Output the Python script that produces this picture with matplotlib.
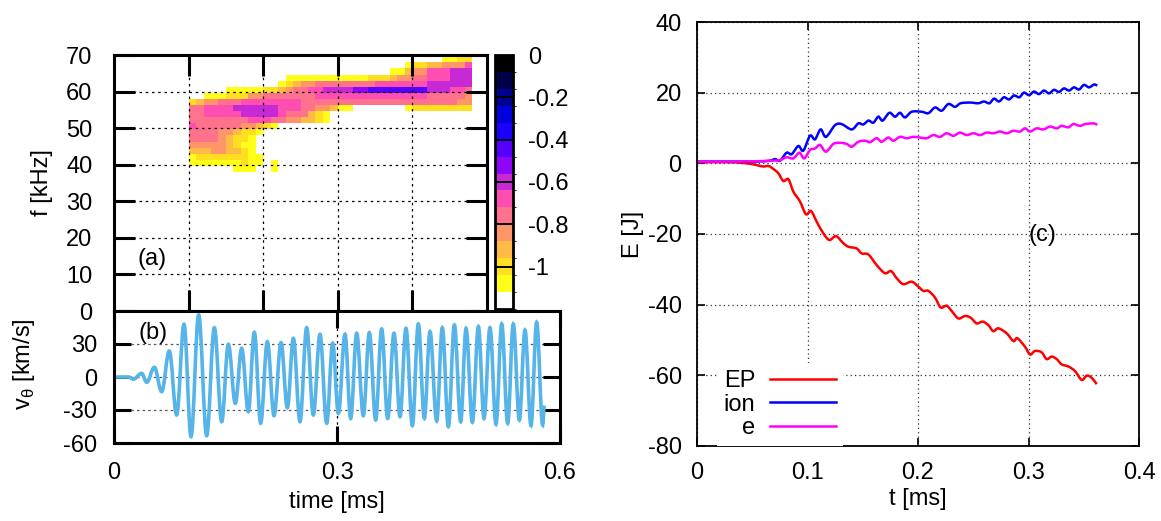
import matplotlib
matplotlib.use('Agg')
import matplotlib.pyplot as plt
import numpy as np
from matplotlib.colors import ListedColormap, BoundaryNorm
from matplotlib.ticker import FormatStrFormatter
from matplotlib.path import Path
from matplotlib.patches import PathPatch
from matplotlib.lines import Line2D

plt.rcParams['font.family'] = ['Liberation Sans', 'DejaVu Sans']
plt.rcParams['axes.unicode_minus'] = False
plt.rcParams['mathtext.fontset'] = 'custom'
plt.rcParams['mathtext.rm'] = 'Liberation Sans'
FS = 17

# (a) spectrogram: level runs per frequency row, top row first (0 = empty)
spec_t_edges = np.linspace(0.10, 0.48, 39)
spec_f_edges = np.linspace(38.0, 38.0 + 19 * 5 / 3, 20)
spec_runs = [
    [(0, 34), (1, 2), (2, 2)],
    [(0, 29), (1, 1), (2, 2), (3, 2), (4, 3), (6, 1)],
    [(0, 27), (1, 2), (3, 1), (4, 2), (6, 3), (7, 3)],
    [(0, 13), (1, 11), (2, 3), (3, 1), (4, 2), (5, 2), (6, 3), (7, 3)],
    [(0, 12), (1, 1), (2, 1), (3, 1), (4, 2), (5, 8), (6, 7), (7, 6)],
    [(0, 5), (1, 5), (2, 2), (3, 1), (4, 1), (5, 2), (6, 2), (7, 4), (8, 2), (9, 8), (7, 3), (6, 2), (5, 1)],
    [(0, 2), (1, 3), (2, 3), (4, 2), (5, 7), (6, 15), (5, 5), (4, 1)],
    [(2, 1), (3, 1), (4, 2), (5, 3), (6, 8), (5, 21), (4, 2)],
    [(5, 2), (6, 4), (7, 6), (6, 3), (5, 2), (4, 2), (3, 1), (1, 2), (0, 7), (1, 1), (2, 8)],
    [(5, 2), (6, 5), (7, 5), (6, 1), (5, 3), (3, 1), (2, 1), (1, 1)],
    [(5, 8), (6, 3), (5, 2), (4, 2), (3, 2), (2, 1), (1, 1)],
    [(6, 1), (5, 6), (4, 2), (3, 1), (2, 1), (1, 1)],
    [(5, 4), (4, 2), (3, 1), (2, 2), (1, 1)],
    [(5, 4), (4, 1), (3, 1), (2, 2), (1, 1)],
    [(4, 5), (3, 1), (2, 1), (1, 2)],
    [(3, 3), (4, 2), (3, 2), (2, 1), (1, 1)],
    [(1, 1), (2, 7), (1, 2)],
    [(1, 7), (2, 1), (1, 2), (0, 1), (1, 1)],
    [(0, 6), (1, 3), (0, 2), (1, 1)],
]
cb_colors = ['#ffffff', '#ffff1a', '#ffdf20', '#ffbb44', '#ff9669', '#ff728d',
             '#ff4db1', '#c729d6', '#8e05fa', '#5500ff', '#1c00ff', '#0000da',
             '#000092', '#000049', '#000000']
cb_ticks = [-1.0, -0.8, -0.6, -0.4, -0.2, 0.0]

# (b) v_theta turning points
vth_t = [0.0, 0.0013, 0.0193, 0.0260, 0.0372, 0.0440, 0.0543, 0.0641, 0.0744,
         0.0843, 0.0942, 0.1036, 0.1139, 0.1247, 0.1350, 0.1449, 0.1538, 0.1632,
         0.1718, 0.1807, 0.1888, 0.1973, 0.2063, 0.2153, 0.2247, 0.2332, 0.2413,
         0.2502, 0.2592, 0.2682, 0.2771, 0.2861, 0.2942, 0.3018, 0.3108, 0.3184,
         0.3265, 0.3354, 0.3435, 0.3520, 0.3601, 0.3682, 0.3767, 0.3848, 0.3928,
         0.4014, 0.4094, 0.4175, 0.4251, 0.4341, 0.4417, 0.4498, 0.4579, 0.4664,
         0.4736, 0.4821, 0.4902, 0.4978, 0.5058, 0.5139, 0.5216, 0.5296, 0.5372,
         0.5453, 0.5529, 0.5610, 0.5686, 0.5767, 0.5789]
vth_v = [0.0, 0.0, 0.0, -2.0, 3.3, -4.8, 8.8, -13.3, 23.6,
         -34.5, 47.9, -54.2, 56.4, -53.3, 44.8, -40.6, 29.7, -23.9,
         26.0, -31.5, 40.6, -42.0, 32.1, -35.1, 31.2, -27.9, 35.1,
         -40.6, 44.8, -34.5, 38.8, -42.0, 30.6, -33.0, 38.8, -37.6,
         39.7, -35.1, 40.3, -39.1, 43.6, -37.6, 39.7, -36.0, 44.2,
         -44.2, 48.2, -37.6, 41.2, -40.0, 44.8, -45.1, 47.3, -40.6,
         44.2, -41.2, 45.8, -37.6, 44.8, -43.0, 48.2, -42.1, 48.2,
         -39.1, 42.7, -44.2, 49.7, -43.6, -26.0]

# (c) energies
ep_t = [0.0, 0.0299, 0.045, 0.054, 0.060, 0.0646, 0.0691, 0.0736, 0.0781, 0.0827,
        0.0872, 0.0932, 0.0986, 0.1032, 0.1083, 0.1143, 0.1198, 0.1258, 0.1324,
        0.1370, 0.1445, 0.1490, 0.1551, 0.1626, 0.1701, 0.1756, 0.1807, 0.1867,
        0.1943, 0.2003, 0.2048, 0.2094, 0.2154, 0.2205, 0.2259, 0.2305, 0.2365,
        0.2425, 0.2477, 0.2531, 0.2585, 0.2637, 0.2681, 0.2727, 0.2802, 0.2863,
        0.2899, 0.2968, 0.3014, 0.3059, 0.3119, 0.3164, 0.3210, 0.3255, 0.3300,
        0.3361, 0.3421, 0.3481, 0.3527, 0.3572, 0.3617]
ep_v = [0.3, 0.3, 0.0, -0.5, -0.9, -0.75, -1.6, -2.8, -5.0, -4.5,
        -8.0, -10.8, -14.4, -13.5, -16.5, -19.8, -21.7, -20.6, -22.6,
        -23.6, -24.1, -25.5, -25.8, -28.8, -31.1, -30.5, -32.5, -34.2,
        -33.5, -34.9, -36.1, -36.1, -38.0, -40.8, -40.3, -41.8, -43.9,
        -43.2, -43.7, -45.3, -44.8, -45.8, -47.5, -46.7, -48.1, -50.3,
        -49.5, -51.9, -54.1, -53.1, -53.5, -55.4, -54.7, -55.4, -56.9,
        -57.5, -58.8, -61.3, -60.1, -60.7, -62.5]
ion_t = [0.0, 0.0389, 0.054, 0.0661, 0.0706, 0.0751, 0.0811, 0.0857, 0.0917, 0.0962,
         0.1023, 0.1068, 0.1119, 0.1167, 0.1249, 0.1309, 0.1400, 0.1460, 0.1505,
         0.1551, 0.1596, 0.1641, 0.1680, 0.1741, 0.1792, 0.1837, 0.1882, 0.1943,
         0.2033, 0.2094, 0.2154, 0.2214, 0.2275, 0.2335, 0.2386, 0.2471, 0.2546,
         0.2597, 0.2646, 0.2688, 0.2733, 0.2778, 0.2824, 0.2869, 0.2917, 0.2959,
         0.3005, 0.3050, 0.3095, 0.3140, 0.3186, 0.3231, 0.3276, 0.3321, 0.3367,
         0.3412, 0.3457, 0.3502, 0.3548, 0.3593, 0.3623]
ion_v = [0.5, 0.5, 0.5, 0.75, 1.2, 0.75, 3.0, 2.6, 4.9, 3.6,
         7.8, 6.8, 9.6, 7.5, 10.8, 11.1, 9.6, 11.3, 11.0,
         12.1, 11.5, 13.2, 12.1, 14.3, 13.2, 14.3, 13.0, 14.6,
         14.6, 14.2, 15.8, 14.9, 16.8, 16.0, 17.0, 17.2, 17.0,
         17.5, 17.0, 18.3, 17.5, 18.7, 18.1, 19.2, 18.7, 20.0,
         19.3, 20.3, 19.6, 20.6, 19.8, 20.8, 20.2, 21.2, 20.6,
         21.5, 20.9, 22.2, 21.5, 22.3, 22.0]
e_t = [0.0, 0.0389, 0.0691, 0.0751, 0.0811, 0.0872, 0.0926, 0.0971, 0.1023, 0.1068,
       0.1113, 0.1167, 0.1234, 0.1294, 0.1354, 0.1400, 0.1460, 0.1520, 0.1566,
       0.1626, 0.1671, 0.1731, 0.1777, 0.1837, 0.1897, 0.1958, 0.2018, 0.2078,
       0.2139, 0.2199, 0.2259, 0.2320, 0.2380, 0.2440, 0.2501, 0.2561, 0.2621,
       0.2682, 0.2742, 0.2802, 0.2863, 0.2923, 0.2968, 0.3014, 0.3074, 0.3134,
       0.3195, 0.3255, 0.3300, 0.3360, 0.3406, 0.3466, 0.3511, 0.3587, 0.3623]
e_v = [0.5, 0.5, 0.75, 0.9, 1.7, 1.4, 3.0, 1.4, 3.8, 4.2,
       5.2, 3.3, 5.5, 5.8, 5.5, 4.7, 6.1, 6.4, 6.0,
       7.1, 6.1, 7.3, 6.4, 7.5, 7.1, 7.5, 7.3, 7.1,
       8.0, 7.5, 8.5, 7.8, 8.7, 8.0, 8.5, 8.0, 8.7,
       8.5, 9.0, 8.5, 9.2, 9.0, 9.9, 9.0, 9.9, 9.6,
       10.4, 9.9, 10.6, 10.2, 11.1, 10.6, 11.1, 11.3, 10.9]

W, H = 1161, 521
fig = plt.figure(figsize=(W / 100, H / 100), dpi=100)


def box(l, t, r, b):
    return [l / W, 1 - b / H, (r - l) / W, (b - t) / H]


def turning_path(ts, vs):
    # cubic segments with flat tangents at every turning point
    pts = list(zip(ts, vs))
    verts, codes = [pts[0]], [Path.MOVETO]
    for (t0, v0), (t1, v1) in zip(pts[:-1], pts[1:]):
        dt = t1 - t0
        verts += [(t0 + 0.364 * dt, v0), (t1 - 0.364 * dt, v1), (t1, v1)]
        codes += [Path.CURVE4] * 3
    return Path(verts, codes)


def smooth_path(ts, vs):
    # Catmull-Rom style cubic segments through the points
    p = np.column_stack([ts, vs])
    verts, codes = [tuple(p[0])], [Path.MOVETO]
    for i in range(len(p) - 1):
        pm = p[max(i - 1, 0)]
        pn = p[min(i + 2, len(p) - 1)]
        c1 = p[i] + (p[i + 1] - pm) / 6
        c2 = p[i + 1] - (pn - p[i]) / 6
        verts += [tuple(c1), tuple(c2), tuple(p[i + 1])]
        codes += [Path.CURVE4] * 3
    return Path(verts, codes)


ax_a = fig.add_axes(box(114, 55, 487, 311))
cax = fig.add_axes(box(495, 55, 513, 309))
ax_b = fig.add_axes(box(114, 311, 560, 443))
ax_c = fig.add_axes(box(697, 22, 1139, 446))

grid_dots = dict(color='black', linewidth=0.9, linestyle=(0, (2, 3)))

# ---- (a)
spec = np.full((len(spec_runs), len(spec_t_edges) - 1), np.nan)
for i, runs in enumerate(spec_runs[::-1]):
    col = 0
    for level, n in runs:
        if level > 0:
            spec[i, col:col + n] = -1.16 + 0.08 * level
        col += n
cmap = ListedColormap(cb_colors)
norm = BoundaryNorm(np.linspace(-1.2, 0, 16), cmap.N)
mesh = ax_a.pcolormesh(spec_t_edges, spec_f_edges, np.ma.masked_invalid(spec),
                       cmap=cmap, norm=norm, zorder=0.5)
ax_a.set_xlim(0, 0.5)
ax_a.set_ylim(0, 70)
ax_a.set_xticks([0.1, 0.2, 0.3, 0.4])
ax_a.set_yticks(range(0, 71, 10))
ax_a.tick_params(direction='in', length=15, width=2.2, top=True, right=True,
                 labelbottom=False, labelsize=FS)
ax_a.tick_params(axis='y', pad=15.5)
ax_a.grid(True, **grid_dots)
ax_a.set_ylabel('f [kHz]', fontsize=FS)
ax_a.yaxis.set_label_coords(-0.164, 0.5)
ax_a.text(0.051, 14.2, '(a)', fontsize=FS, ha='center', va='center')
for s in ax_a.spines.values():
    s.set_linewidth(2.2)

cb = fig.colorbar(mesh, cax=cax, ticks=cb_ticks, spacing='proportional')
cax.yaxis.set_major_formatter(FormatStrFormatter('%g'))
cax.tick_params(length=0, pad=11, labelsize=FS)
for v in cb_ticks:
    cax.axhline(v, color='black', linewidth=1.4)
cb.outline.set_linewidth(2.0)

# ---- (b)
ax_b.add_patch(PathPatch(turning_path(vth_t, vth_v), fill=False,
                         edgecolor='#56b4e9', linewidth=2.6, zorder=2))
ax_b.set_xlim(0, 0.6)
ax_b.set_ylim(-60, 60)
ax_b.set_xticks([0, 0.3, 0.6])
ax_b.set_xticklabels(['0', '0.3', '0.6'])
ax_b.set_yticks([-60, -30, 0, 30])
ax_b.tick_params(direction='in', length=12.5, width=2.2, top=True, right=True,
                 labelsize=FS)
ax_b.tick_params(axis='y', pad=12)
ax_b.tick_params(axis='x', pad=13.5)
ax_b.grid(True, axis='y', color='#555555', linewidth=0.9, linestyle=(0, (2, 2.5)))
ax_b.grid(True, axis='x', **grid_dots)
ax_b.set_ylabel(r'v$_\mathregular{\theta}$ [km/s]', fontsize=FS)
ax_b.yaxis.set_label_coords(-0.173, 0.6)
ax_b.set_xlabel('time [ms]', fontsize=FS)
ax_b.xaxis.set_label_coords(0.5, -0.36)
ax_b.text(0.052, 39.7, '(b)', fontsize=FS, ha='center', va='center')
for s in ax_b.spines.values():
    s.set_linewidth(2.2)

# ---- (c)
handles = []
for ts, vs, color, name in [(ep_t, ep_v, '#ff0000', 'EP'),
                            (ion_t, ion_v, '#0000ff', 'ion'),
                            (e_t, e_v, '#ff00ff', 'e')]:
    ax_c.add_patch(PathPatch(smooth_path(ts, vs), fill=False, edgecolor=color,
                             linewidth=1.8, zorder=2))
    handles.append(Line2D([], [], color=color, linewidth=1.8, label=name))
ax_c.set_xlim(0, 0.4)
ax_c.set_ylim(-80, 40)
ax_c.set_xticks([0, 0.1, 0.2, 0.3, 0.4])
ax_c.set_yticks(range(-80, 41, 20))
ax_c.xaxis.set_major_formatter(FormatStrFormatter('%g'))
ax_c.tick_params(direction='in', length=6, width=1.2, top=True, right=True,
                 labelsize=FS)
ax_c.tick_params(axis='y', pad=11)
ax_c.tick_params(axis='x', pad=11.5)
ax_c.grid(True, color='#333333', linewidth=0.9, linestyle=(0, (1, 2.5)))
ax_c.set_xlabel('t [ms]', fontsize=FS)
ax_c.xaxis.set_label_coords(0.5, -0.10)
ax_c.set_ylabel('E [J]', fontsize=FS)
ax_c.yaxis.set_label_coords(-0.12, 0.5)
ax_c.text(0.313, -20.3, '(c)', fontsize=FS, ha='center', va='center')
for s in ax_c.spines.values():
    s.set_linewidth(1.3)
ax_c.legend(handles=handles, loc='upper right', bbox_to_anchor=(0.33, 0.195),
            markerfirst=False, frameon=True, fancybox=False, edgecolor='none',
            facecolor='white', framealpha=1, fontsize=FS, handlelength=2.8,
            handletextpad=0.6, labelspacing=0.05, borderpad=0.3, borderaxespad=0)

fig.savefig('out.png', dpi=100)
